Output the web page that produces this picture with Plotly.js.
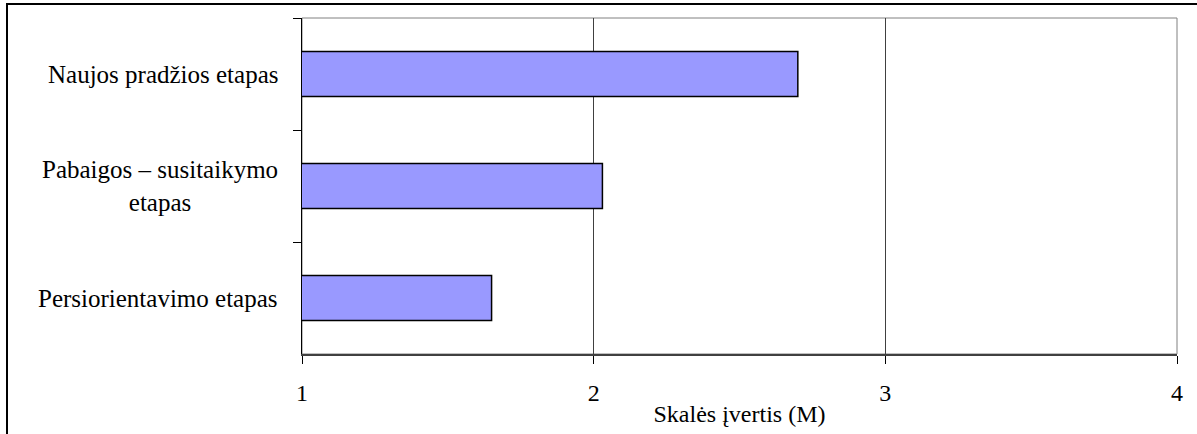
<!DOCTYPE html>
<html>
<head>
<meta charset="utf-8">
<script src="https://cdn.plot.ly/plotly-3.0.1.min.js"></script>
<style>
  html, body { margin: 0; padding: 0; background: #fff; overflow: hidden; }
  #frame { position: absolute; left: 6px; top: 3px; width: 1300px; height: 600px; border: 2px solid #000; pointer-events: none; z-index: 2; }
  #chart { position: absolute; left: 0; top: 0; width: 1197px; height: 434px; z-index: 1; }
</style>
</head>
<body>
<div id="frame"></div>
<div id="chart"></div>
<script>
// Data
const categories = ["Naujos pradžios etapas", "Pabaigos – susitaikymo etapas", "Persiorientavimo etapas"];
const categoryLabels = ["Naujos pradžios etapas", "Pabaigos – susitaikymo<br>etapas", "Persiorientavimo etapas"];
const values = [2.70, 2.03, 1.65];
const xTickValues = [1, 2, 3, 4];
const xTickLabels = ["1", "2", "3", "4"];
const xAxisTitle = "Skalės įvertis (M)";

const FONT = "Liberation Serif, Times New Roman, serif";

const trace = {
  type: "bar",
  orientation: "h",
  y: categories,
  x: values,
  marker: { color: "#9999FF", line: { color: "#000", width: 1.5 } },
  hoverinfo: "none"
};

const annotations = categories.map((c, i) => ({
  xref: "paper", yref: "y",
  x: 0, y: c,
  xanchor: "right", yanchor: "middle",
  xshift: -22,
  text: categoryLabels[i],
  align: "center",
  showarrow: false,
  font: { family: FONT, size: 25, color: "#000" }
}));

const layout = {
  width: 1197, height: 434,
  margin: { l: 302, r: 20, t: 18, b: 80 },
  paper_bgcolor: "rgba(0,0,0,0)",
  plot_bgcolor: "#fff",
  showlegend: false,
  bargap: 0.6,
  font: { family: FONT, size: 22, color: "#000" },
  xaxis: {
    range: [1, 4],
    tickvals: xTickValues,
    ticktext: xTickLabels,
    ticks: "outside", ticklen: 8, tickcolor: "#000", tickwidth: 1,
    ticklabelstandoff: 8,
    showgrid: true, gridcolor: "#404040", gridwidth: 1,
    showline: true, linecolor: "#404040", linewidth: 2,
    zeroline: false,
    tickfont: { family: FONT, size: 24, color: "#000" },
    title: { text: xAxisTitle, font: { family: FONT, size: 24, color: "#000" }, standoff: 0 }
  },
  yaxis: {
    type: "category",
    autorange: "reversed",
    tickson: "boundaries",
    ticks: "outside", ticklen: 8, tickcolor: "#000", tickwidth: 1,
    showticklabels: false,
    showgrid: false,
    showline: true, linecolor: "#000", linewidth: 1.5,
    zeroline: false
  },
  shapes: [{
    type: "rect", xref: "paper", yref: "paper",
    x0: 0, x1: 1, y0: 0, y1: 1,
    line: { color: "#808080", width: 1 },
    layer: "below"
  }],
  annotations: annotations
};

Plotly.newPlot("chart", [trace], layout, { staticPlot: true, displayModeBar: false });
</script>
</body>
</html>
